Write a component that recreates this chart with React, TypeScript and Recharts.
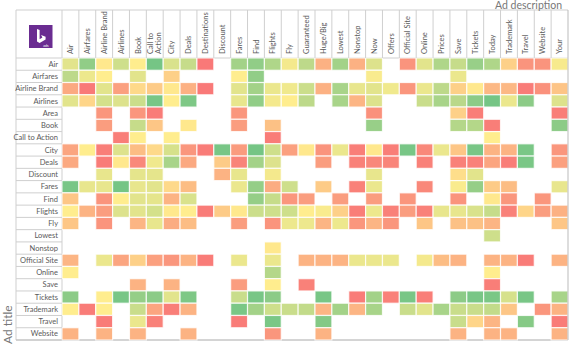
import { Customized, Scatter, ScatterChart, XAxis, YAxis } from "recharts";

const _ = null;

const adDescriptions = [
  "Air", "Airfares", "Airline Brand", "Airlines", "Book", "Call to Action", "City", "Deals",
  "Destinations", "Discount", "Fares", "Find", "Flights", "Fly", "Guaranteed", "Huge/Big",
  "Lowest", "Nonstop", "Now", "Offers", "Official Site", "Online", "Prices", "Save",
  "Tickets", "Today", "Trademark", "Travel", "Website", "Your",
];

const adTitles = [
  "Air", "Airfares", "Airline Brand", "Airlines", "Area", "Book", "Call to Action", "City",
  "Deals", "Discount", "Fares", "Find", "Flights", "Fly", "Lowest", "Nonstop",
  "Official Site", "Online", "Save", "Tickets", "Trademark", "Travel", "Website",
];

// score per ad description: 0 = best (green), 50 = neutral (yellow), 100 = worst (red)
const rowAir = [40, 12, 52, 33, 50, 2, 37, 30, 98, _, 18, 12, 22, 46, 27, 75, 18, 75, 38, _, 87, 40, 22, 30, 14, 22, 62, 87, 87, 47];
const rowAirfares = [27, 44, 50, _, 40, _, 62, _, _, _, 50, 12, _, _, _, _, _, _, 48, _, _, _, _, 43, _, _, _, _, _, _];
const rowAirlineBrand = [78, 98, 40, 82, 58, 64, 52, 75, 98, _, 40, 18, 43, 45, 32, 75, 20, 42, 40, 45, 86, 43, 27, 62, 52, 72, 72, 97, 88, 67];
const rowAirlines = [40, 60, 35, 38, 32, 3, 50, 5, _, _, 42, 12, 46, 50, 27, _, 20, 73, 38, _, _, 31, 20, 26, 10, 2, 43, 10, _, 38];
const rowArea = [_, _, 86, _, 86, 97, _, _, _, _, 86, _, _, _, _, _, _, _, 88, _, _, _, _, 62, 96, _, _, _, _, 96];
const rowBook = [_, _, 83, _, 30, 66, _, 52, _, _, 83, _, 68, _, _, _, _, _, 14, _, _, _, _, 24, 24, 96, _, _, _, 10];
const rowCallToAction = [_, _, _, 96, 50, _, 50, _, _, _, _, _, 97, _, _, _, _, _, _, _, _, _, _, _, _, 50, _, _, _, _];
const rowCity = [80, 50, 96, 38, 70, 58, 36, 86, 97, 3, 84, 2, 33, 82, 52, 87, 43, 96, 52, 96, 3, 92, 43, 66, 3, 74, 74, 4, _, 86];
const rowDeals = [78, _, 97, 52, 92, 45, 20, 78, _, 64, 94, 18, 38, _, _, 83, _, 95, 92, 94, _, 95, _, 95, 95, 80, 96, 4, _, 82];
const rowDiscount = [_, _, 42, _, 41, 41, _, _, _, 74, 42, _, 46, _, _, _, _, _, 42, _, _, _, _, 56, 40, _, _, _, _, _];
const rowFares = [3, 42, 42, 2, 42, 40, 58, 70, _, _, 43, 13, 77, 33, _, 64, _, 95, 43, _, _, 92, _, 48, 13, 64, 70, _, _, 42];
const rowFind = [66, _, 87, 50, 40, 41, 74, 37, _, _, _, 13, 30, 86, 83, _, 83, _, 83, _, 86, _, _, 87, _, 52, 86, _, 86, _];
const rowFlights = [50, 74, 83, 38, 40, 35, 52, 50, 97, 64, 52, 32, 33, 33, 50, 48, 62, 96, 44, 95, 83, 95, 42, 42, 37, 30, 95, 60, 83, 75];
const rowFly = [66, _, 87, _, 73, 42, 77, 70, _, _, 83, _, 87, 44, 44, 73, 44, 86, 73, 86, _, 66, _, 68, 68, 73, _, _, _, 66];
const rowLowest = [_, _, _, _, _, _, _, _, _, _, _, _, _, _, _, _, _, _, _, _, _, _, _, _, _, 33, _, _, _, _];
const rowNonstop = [_, _, _, _, _, _, _, _, _, _, _, _, 52, _, _, _, _, _, _, _, _, _, _, _, _, _, _, _, _, _];
const rowOfficialSite = [73, _, 43, 80, 62, 82, 86, 74, 97, _, 43, _, 43, _, 74, 74, 74, 43, 43, 43, _, 46, 70, 74, _, 74, 74, 97, _, 74];
const rowOnline = [50, _, _, _, _, _, _, _, _, _, _, _, 24, _, _, _, _, _, _, _, _, _, _, _, _, 50, _, _, _, _];
const rowSave = [_, _, _, _, 74, _, 74, _, _, _, 83, _, 50, _, 95, _, _, _, _, _, _, _, _, _, _, 96, _, _, _, _];
const rowTickets = [10, _, 50, 3, 13, 10, 40, 5, _, _, 31, 3, 10, _, _, 3, _, 97, 18, 95, 3, 96, _, 10, 3, 4, 36, 3, _, 20];
const rowTrademark = [50, 97, 50, _, 31, 80, 96, 74, _, _, 4, 18, 33, 31, 29, 73, 18, 73, 20, _, 31, 40, 20, 31, 31, 29, 66, _, 86, 74];
const rowTravel = [_, _, 97, _, 43, 95, _, _, _, _, 97, _, 4, _, _, 7, _, _, _, _, _, _, _, 31, 60, 73, _, 8, _, 97];
const rowWebsite = [74, _, 74, _, 74, _, _, 74, _, _, _, _, 86, _, _, 74, _, _, _, _, _, _, _, 74, _, 74, 74, _, _, 74];

const scoreRows = [
  rowAir, rowAirfares, rowAirlineBrand, rowAirlines, rowArea, rowBook, rowCallToAction, rowCity,
  rowDeals, rowDiscount, rowFares, rowFind, rowFlights, rowFly, rowLowest, rowNonstop,
  rowOfficialSite, rowOnline, rowSave, rowTickets, rowTrademark, rowTravel, rowWebsite,
];

type CellPoint = { col: number; row: number; score: number };

const cells: CellPoint[] = scoreRows.flatMap((scores, row) =>
  scores.flatMap((score, col) => (score === null ? [] : [{ col, row, score }]))
);

const CHART_W = 580;
const CHART_H = 358;
const MARGIN = { top: 10, right: 12, bottom: 18, left: 16 };
const X_AXIS_H = 48;
const Y_AXIS_W = 46;
const PLOT_LEFT = MARGIN.left + Y_AXIS_W;
const PLOT_TOP = MARGIN.top + X_AXIS_H;
const PLOT_RIGHT = CHART_W - MARGIN.right;
const PLOT_BOTTOM = CHART_H - MARGIN.bottom;
const CELL_W = (PLOT_RIGHT - PLOT_LEFT) / adDescriptions.length;
const CELL_H = (PLOT_BOTTOM - PLOT_TOP) / adTitles.length;

const GRID = "#cfcfcf";
const LABEL = "#5a5a5a";
const FONT = "Lato, 'Open Sans', sans-serif";

const GREEN = [99, 190, 123];
const YELLOW = [255, 235, 132];
const RED = [248, 105, 107];

function scoreColor(v: number) {
  const [a, b, t] = v <= 50 ? [GREEN, YELLOW, v / 50] : [YELLOW, RED, (v - 50) / 50];
  const c = a.map((x, i) => Math.round(x + (b[i] - x) * t));
  return `rgb(${c[0]},${c[1]},${c[2]})`;
}

// eslint-disable-next-line @typescript-eslint/no-explicit-any
const HeatCell = (props: any) => {
  const { cx, cy, payload } = props;
  if (cx == null || cy == null) return null;
  return (
    <rect
      x={cx - CELL_W / 2}
      y={cy - CELL_H / 2}
      width={CELL_W}
      height={CELL_H}
      fill={scoreColor(payload.score)}
      fillOpacity={0.92}
      stroke="#fff"
      strokeWidth={1.2}
      strokeOpacity={0.8}
    />
  );
};

// eslint-disable-next-line @typescript-eslint/no-explicit-any
const ColumnTick = (props: any) => {
  const { x, payload } = props;
  const label: string = adDescriptions[payload.value] ?? "";
  const cut = label.lastIndexOf(" ");
  const lines = label.length >= 14 ? [label.slice(0, cut), label.slice(cut + 1)] : [label];
  const isLast = payload.value === adDescriptions.length - 1;
  const baseY = PLOT_TOP - 4;
  return (
    <g>
      <line x1={x - CELL_W / 2} x2={x - CELL_W / 2} y1={MARGIN.top} y2={PLOT_TOP} stroke={GRID} />
      {isLast && <line x1={x + CELL_W / 2} x2={x + CELL_W / 2} y1={MARGIN.top} y2={PLOT_BOTTOM} stroke="#bbb" />}
      {lines.map((ln, i) => {
        const tx = x + 2.6 - (lines.length - 1) * 4 + i * 8;
        return (
          <text
            key={i}
            x={tx}
            y={baseY}
            transform={`rotate(-90 ${tx} ${baseY})`}
            textAnchor="start"
            fontSize={7.5}
            fontFamily={FONT}
            fill={LABEL}
          >
            {ln}
          </text>
        );
      })}
    </g>
  );
};

// eslint-disable-next-line @typescript-eslint/no-explicit-any
const RowTick = (props: any) => {
  const { y, payload } = props;
  return (
    <g>
      <line x1={MARGIN.left} x2={PLOT_LEFT} y1={y + CELL_H / 2} y2={y + CELL_H / 2} stroke={GRID} />
      <text x={PLOT_LEFT - 4} y={y + 2.6} textAnchor="end" fontSize={7.5} fontFamily={FONT} fill={LABEL}>
        {adTitles[payload.value]}
      </text>
    </g>
  );
};

const Frame = () => (
  <g>
    <line x1={MARGIN.left} x2={PLOT_RIGHT} y1={MARGIN.top} y2={MARGIN.top} stroke={GRID} />
    <line x1={MARGIN.left} x2={PLOT_RIGHT} y1={PLOT_TOP} y2={PLOT_TOP} stroke={GRID} />
    <line x1={MARGIN.left} x2={MARGIN.left} y1={MARGIN.top} y2={PLOT_BOTTOM} stroke={GRID} />
    <line x1={PLOT_LEFT} x2={PLOT_LEFT} y1={PLOT_TOP} y2={PLOT_BOTTOM} stroke={GRID} />
    <line x1={MARGIN.left} x2={PLOT_RIGHT} y1={PLOT_BOTTOM} y2={PLOT_BOTTOM} stroke="#aaa" />
    <g transform="translate(29 25)">
      <rect width={23.5} height={23} fill="#6a2c91" />
      <path d="M8 4 L10.6 4.9 L10.6 14.2 L13.4 12.6 L12.1 10 L16.6 11.8 L16.6 14.6 L10.6 18 L8 16.6 Z" fill="#fff" />
      <text x={19.5} y={21.5} textAnchor="end" fontSize={3.6} fontFamily={FONT} fill="#fff">
        ads
      </text>
    </g>
    <text x={562} y={8.5} textAnchor="end" fontSize={10.5} fontFamily={FONT} fill="#777">
      Ad description
    </text>
    <text x={12} y={344} transform="rotate(-90 12 344)" textAnchor="start" fontSize={12} fontFamily={FONT} fill="#777">
      Ad title
    </text>
  </g>
);

export default function App() {
  return (
    <div style={{ position: "absolute", left: 0, top: 0, width: CHART_W, height: CHART_H, background: "#fff" }}>
      <ScatterChart width={CHART_W} height={CHART_H} margin={MARGIN}>
        <XAxis
          type="number"
          dataKey="col"
          orientation="top"
          domain={[-0.5, adDescriptions.length - 0.5]}
          ticks={adDescriptions.map((_d, i) => i)}
          interval={0}
          height={X_AXIS_H}
          axisLine={false}
          tickLine={false}
          tick={<ColumnTick />}
        />
        <YAxis
          type="number"
          dataKey="row"
          reversed
          domain={[-0.5, adTitles.length - 0.5]}
          ticks={adTitles.map((_t, i) => i)}
          interval={0}
          width={Y_AXIS_W}
          axisLine={false}
          tickLine={false}
          tick={<RowTick />}
        />
        <Customized component={<Frame />} />
        <Scatter data={cells} shape={<HeatCell />} isAnimationActive={false} />
      </ScatterChart>
    </div>
  );
}
